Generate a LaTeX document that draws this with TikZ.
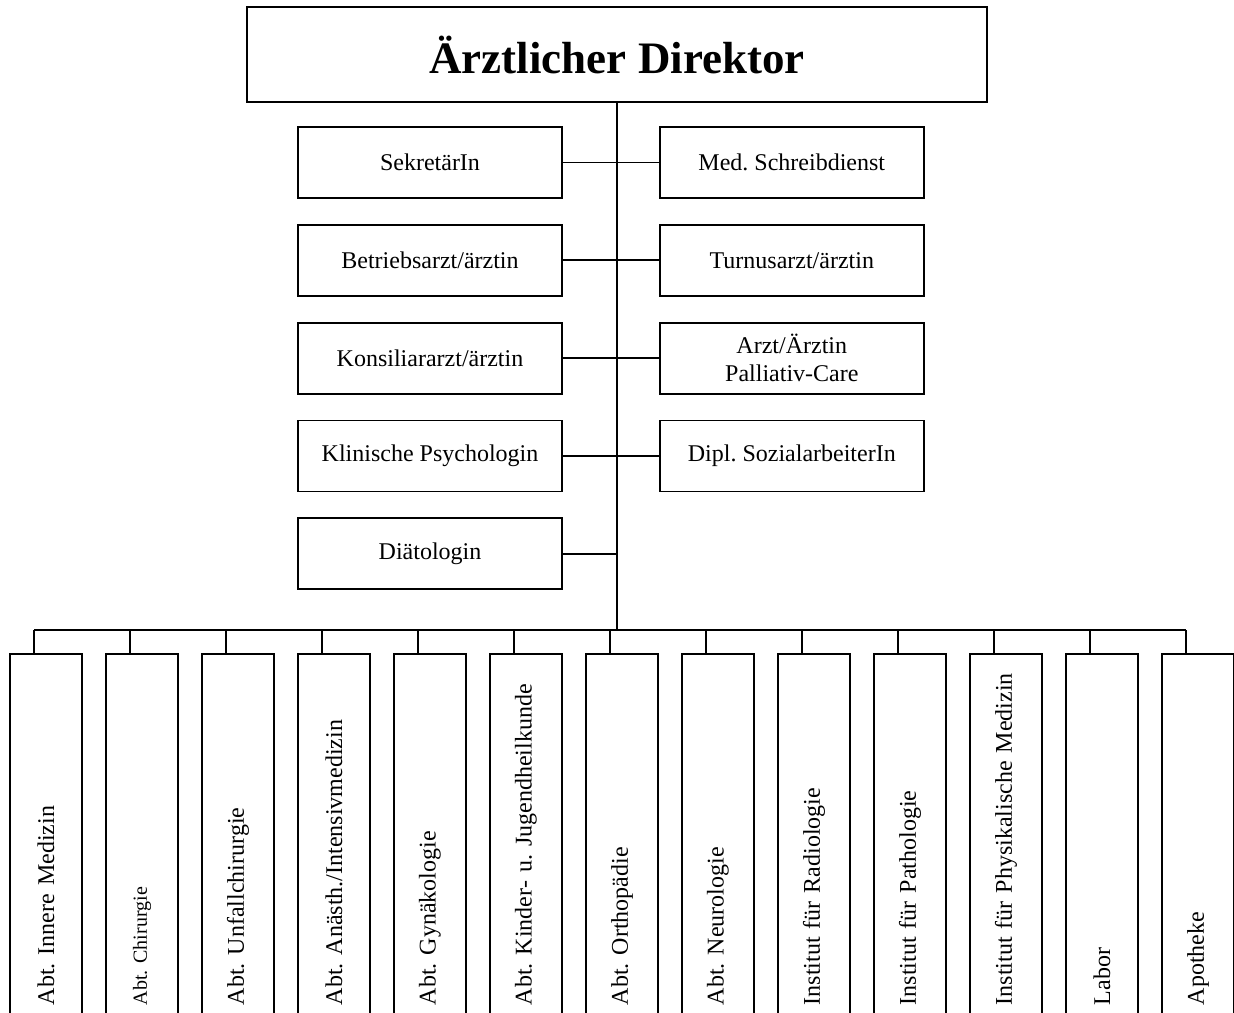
\documentclass[tikz,border=0pt]{standalone}
\usepackage{fontspec}
\setmainfont{Liberation Serif}
\usetikzlibrary{positioning}
\frenchspacing

\begin{document}
\begin{tikzpicture}[x=1pt,y=1pt,node distance=25pt and 96pt,line width=1.8pt]
  \tikzstyle{chef}=[rectangle,draw,minimum width=740pt,minimum height=95pt,font=\fontsize{45}{50}\selectfont\bfseries]
  \tikzstyle{stab}=[rectangle,draw,minimum width=264pt,minimum height=71pt,align=center,font=\fontsize{24}{28}\selectfont]
  \tikzstyle{abt}=[rectangle,draw,rotate=90,minimum height=72pt,text width=336pt,inner xsep=15pt,align=left,font=\fontsize{24}{28}\selectfont]

  \useasboundingbox (0,0) rectangle (1234,-1012);
  \clip (0,0) rectangle (1234,-1012);

  \node[chef] (dir) at (617,-54.5) {Ärztlicher Direktor};

  \node[stab] (l1) at (430,-162.5) {SekretärIn};
  \node[stab,below=of l1] (l2) {Betriebsarzt/ärztin};
  \node[stab,below=of l2] (l3) {Konsiliararzt/ärztin};
  \node[stab,below=of l3] (l4) {Klinische Psychologin};
  \node[stab,below=of l4] (l5) {Diätologin};
  \node[stab,right=of l1] (r1) {Med. Schreibdienst};
  \node[stab,right=of l2] (r2) {Turnusarzt/ärztin};
  \node[stab,right=of l3] (r3) {Arzt/Ärztin\\Palliativ-Care};
  \node[stab,right=of l4] (r4) {Dipl. SozialarbeiterIn};

  % Abteilungen und Institute
  \node[abt] (d1) at (46,-837) {Abt. Innere Medizin};
  \node[abt,font=\fontsize{20}{24}\selectfont] (d2) at (142,-837) {Abt. Chirurgie};
  \node[abt] (d3) at (238,-837) {Abt. Unfallchirurgie};
  \node[abt] (d4) at (334,-837) {Abt. Anästh./Intensivmedizin};
  \node[abt] (d5) at (430,-837) {Abt. Gynäkologie};
  \node[abt] (d6) at (526,-837) {Abt. Kinder- u. Jugendheilkunde};
  \node[abt] (d7) at (622,-837) {Abt. Orthopädie};
  \node[abt] (d8) at (718,-837) {Abt. Neurologie};
  \node[abt] (d9) at (814,-837) {Institut für Radiologie};
  \node[abt] (d10) at (910,-837) {Institut für Pathologie};
  \node[abt] (d11) at (1006,-837) {Institut für Physikalische Medizin};
  \node[abt] (d12) at (1102,-837) {Labor};
  \node[abt] (d13) at (1198,-837) {Apotheke};

  \coordinate (s1) at (34,-630);
  \coordinate (s13) at (1186,-630);

  \draw (dir.south) -- (dir.south |- s1);
  \draw (s1) -- (s13);

  \draw (l1.east) -- (r1.west);
  \draw (l2.east) -- (r2.west);
  \draw (l3.east) -- (r3.west);
  \draw (l4.east) -- (r4.west);
  \draw (l5.east) -- (l5.east -| dir.south);

  \foreach \i in {1,...,13}
    \draw ([xshift=-12pt]d\i.east) -- ([xshift=-12pt]d\i.east |- s1);
\end{tikzpicture}
\end{document}
